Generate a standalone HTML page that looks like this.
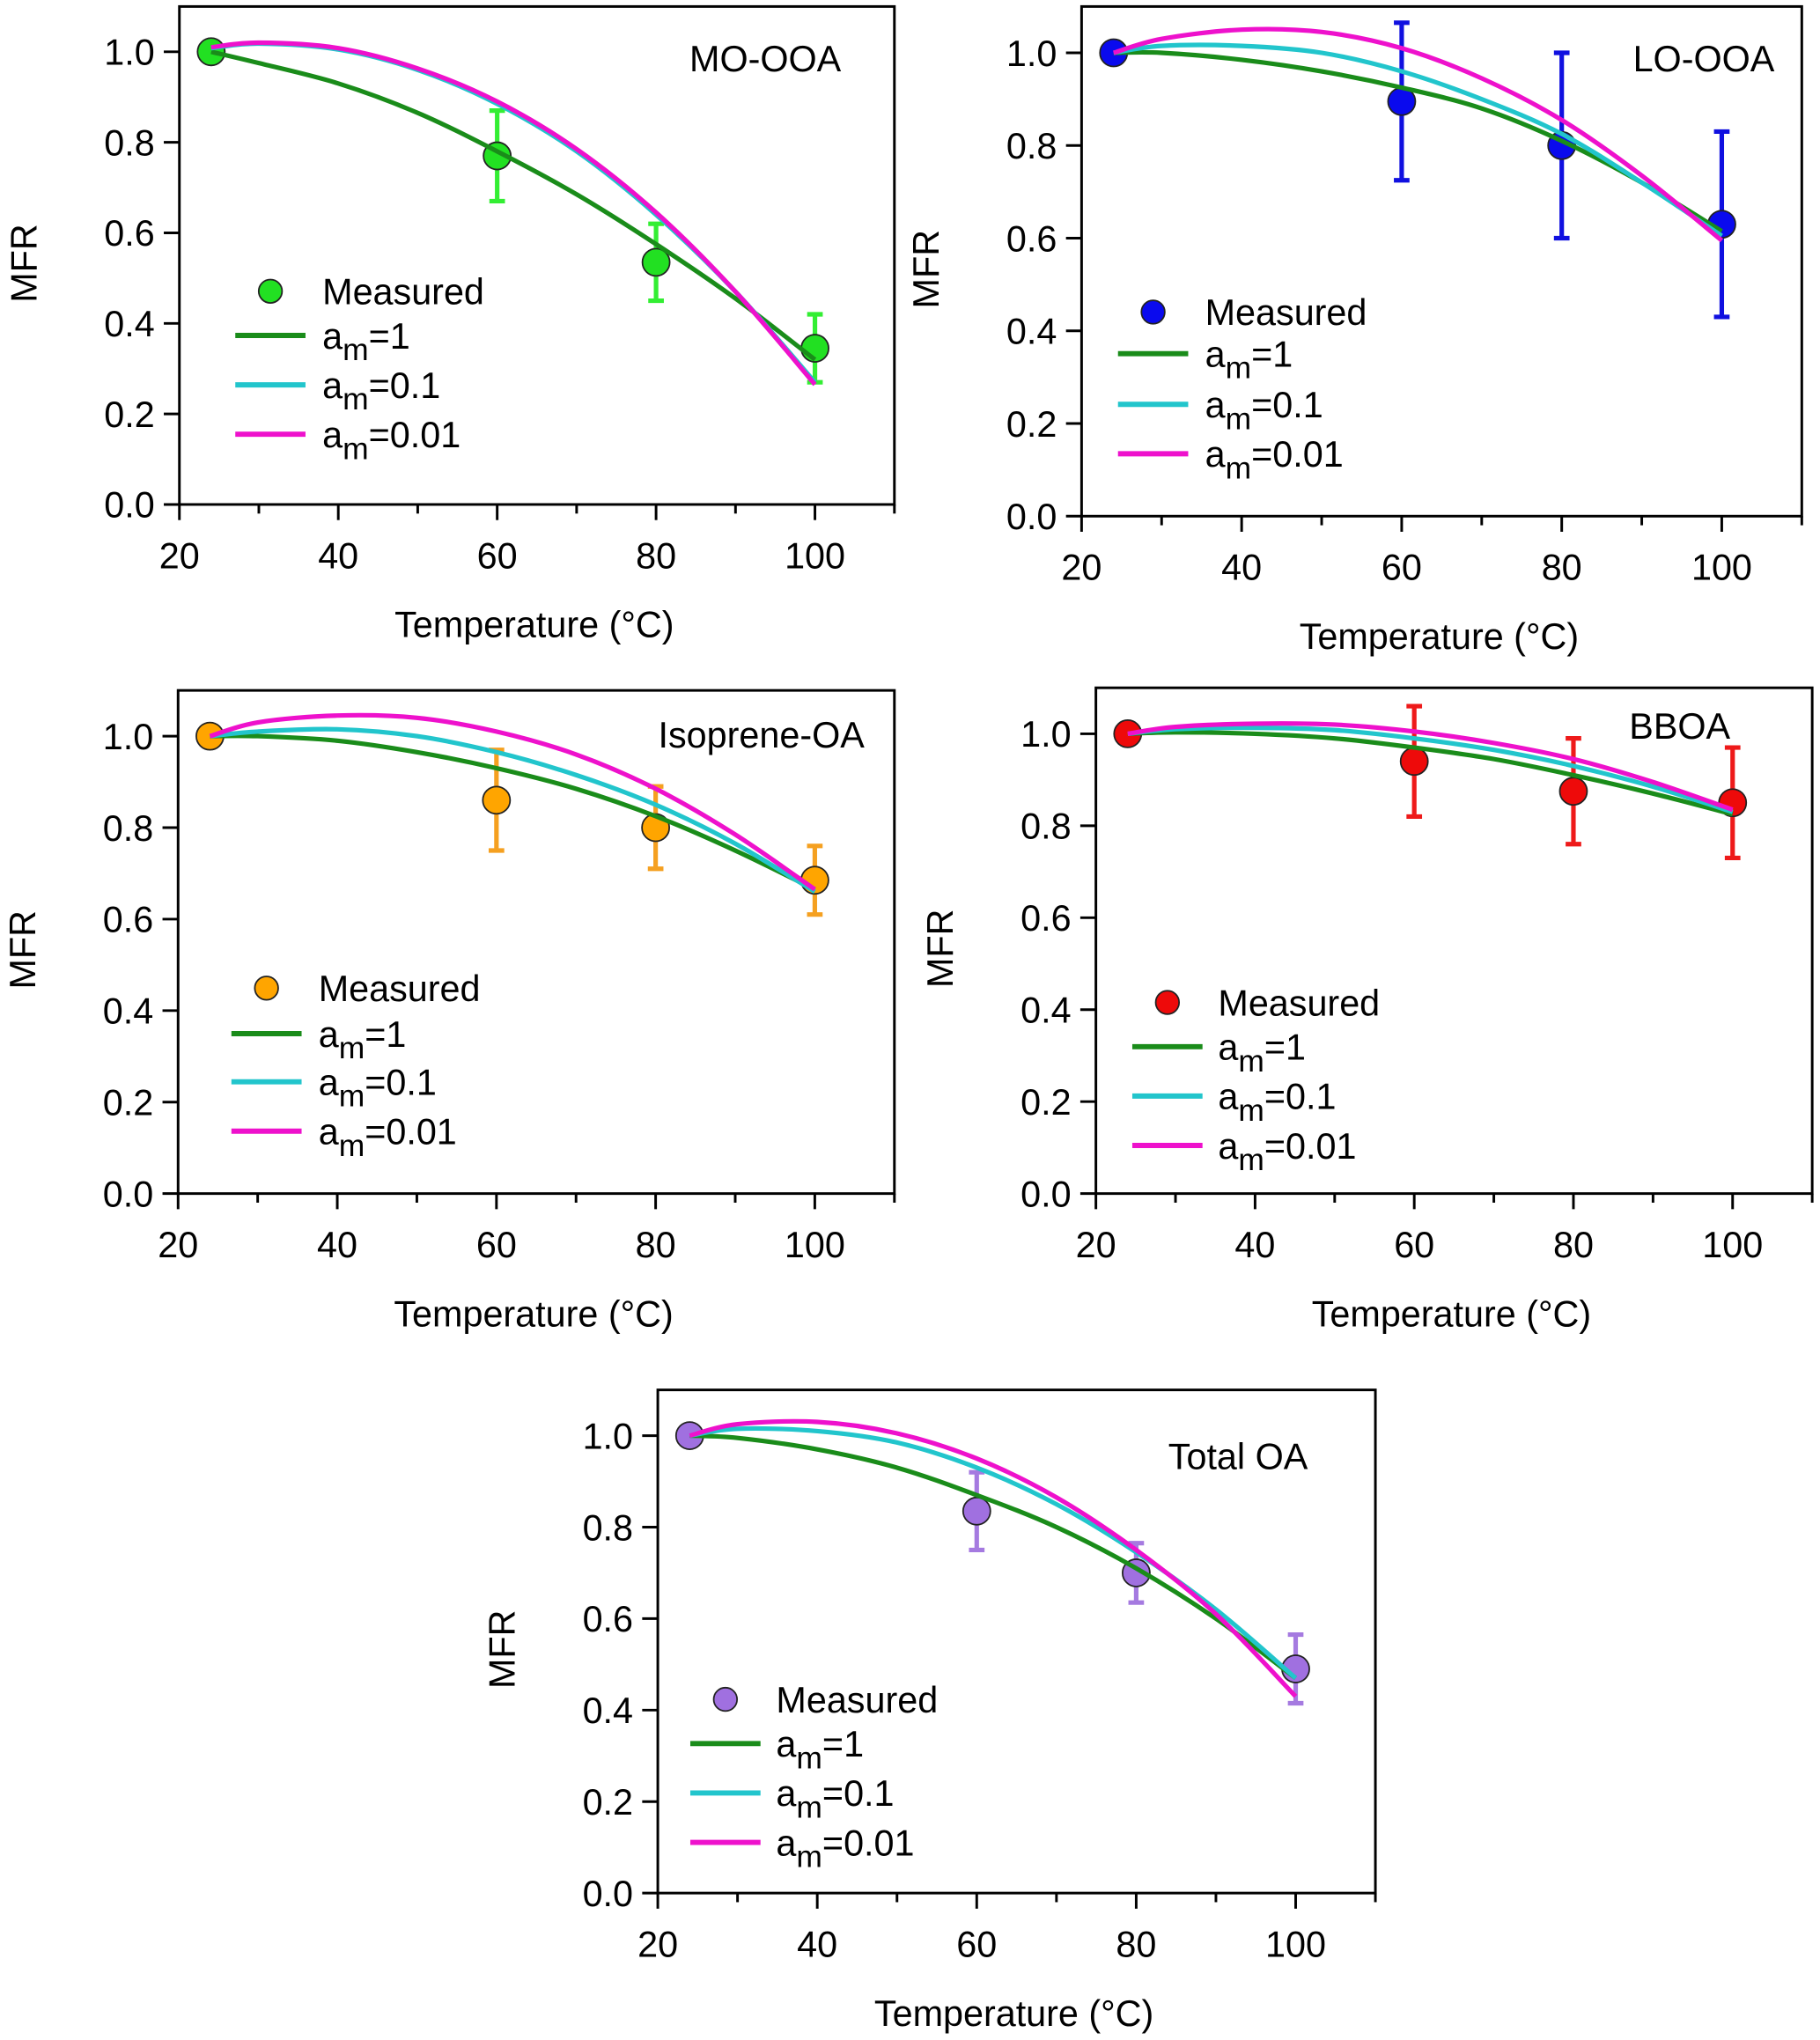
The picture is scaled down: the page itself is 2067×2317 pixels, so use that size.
<!DOCTYPE html>
<html><head><meta charset="utf-8"><style>
html,body{margin:0;padding:0;background:#fff;}
svg{display:block;}
text{font-family:"Liberation Sans",Arial,sans-serif;fill:#000;}
</style></head><body>
<svg id="fig" width="2067" height="2317" viewBox="0 0 1400 1569" preserveAspectRatio="none" xmlns="http://www.w3.org/2000/svg"></svg>
<script>
// ---- data ----
const xTicks = [20, 40, 60, 80, 100];
const xMinor = [30, 50, 70, 90, 110];
const yTicks = [0.0, 0.2, 0.4, 0.6, 0.8, 1.0];
const yTickLabels = ["0.0", "0.2", "0.4", "0.6", "0.8", "1.0"];
const curveT = [24, 30, 40, 50, 60, 70, 80, 90, 100];
const measT = [24, 60, 80, 100];
const legendLabels = ["1", "0.1", "0.01"];

const moMeas = [1.0, 0.77, 0.535, 0.345];
const moErr = [0, 0.1, 0.085, 0.075];
const moAm1 = [1.0, 0.975, 0.93, 0.865, 0.78, 0.685, 0.575, 0.455, 0.32];
const moAm01 = [1.008, 1.018, 1.005, 0.96, 0.885, 0.78, 0.64, 0.47, 0.27];
const moAm001 = [1.01, 1.02, 1.008, 0.963, 0.89, 0.785, 0.645, 0.47, 0.265];

const loMeas = [1.0, 0.895, 0.8, 0.63];
const loErr = [0, 0.17, 0.2, 0.2];
const loAm1 = [1.0, 1.0, 0.985, 0.96, 0.925, 0.88, 0.81, 0.72, 0.615];
const loAm01 = [1.0, 1.015, 1.015, 1.0, 0.96, 0.9, 0.825, 0.72, 0.605];
const loAm001 = [1.0, 1.03, 1.05, 1.045, 1.01, 0.945, 0.855, 0.735, 0.595];

const isoMeas = [1.0, 0.86, 0.8, 0.685];
const isoErr = [0, 0.11, 0.09, 0.075];
const isoAm1 = [1.0, 1.0, 0.99, 0.965, 0.93, 0.885, 0.825, 0.75, 0.665];
const isoAm01 = [1.0, 1.01, 1.015, 1.0, 0.965, 0.915, 0.85, 0.765, 0.66];
const isoAm001 = [1.0, 1.03, 1.045, 1.04, 1.01, 0.96, 0.885, 0.785, 0.665];

const bbMeas = [1.0, 0.94, 0.875, 0.85];
const bbErr = [0, 0.12, 0.115, 0.12];
const bbAm1 = [1.0, 1.003, 1.0, 0.99, 0.97, 0.945, 0.91, 0.87, 0.825];
const bbAm01 = [1.0, 1.01, 1.013, 1.008, 0.99, 0.965, 0.93, 0.885, 0.83];
const bbAm001 = [1.0, 1.015, 1.022, 1.02, 1.005, 0.98, 0.945, 0.895, 0.835];

const totMeas = [1.0, 0.835, 0.7, 0.49];
const totErr = [0, 0.085, 0.065, 0.075];
const totAm1 = [1.0, 0.995, 0.97, 0.93, 0.87, 0.8, 0.71, 0.6, 0.47];
const totAm01 = [1.0, 1.015, 1.01, 0.985, 0.93, 0.85, 0.745, 0.62, 0.47];
const totAm001 = [1.0, 1.025, 1.03, 1.005, 0.95, 0.865, 0.75, 0.61, 0.43];

// ---- layout (not data) ----
const panels = [
 {name:"mo-ooa", title:"MO-OOA", tx:647, ty:55, L:138, R:688, T:5, B:388, meas:moMeas, err:moErr, c:[moAm1,moAm01,moAm001], col:"#22e022", ecol:"#33ee33", leg:{mx:208,my:224,lx:181,tx:248,ly:[258,296,334]}},
 {name:"lo-ooa", title:"LO-OOA", tx:1365, ty:55, L:832, R:1386, T:5, B:397, meas:loMeas, err:loErr, c:[loAm1,loAm01,loAm001], col:"#0a0aee", ecol:"#1010e0", leg:{mx:887,my:240,lx:860,tx:927,ly:[272,311,349]}},
 {name:"isoprene-oa", title:"Isoprene-OA", tx:665, ty:575, L:137, R:688, T:531, B:918, meas:isoMeas, err:isoErr, c:[isoAm1,isoAm01,isoAm001], col:"#ffa500", ecol:"#f5a020", leg:{mx:205,my:760,lx:178,tx:245,ly:[795,832,870]}},
 {name:"bboa", title:"BBOA", tx:1331, ty:568, L:843, R:1394, T:529, B:918, meas:bbMeas, err:bbErr, c:[bbAm1,bbAm01,bbAm001], col:"#ee0a0a", ecol:"#ee1a1a", leg:{mx:898,my:771,lx:871,tx:937,ly:[805,843,881]}},
 {name:"total-oa", title:"Total OA", tx:1006, ty:1130, L:506, R:1058, T:1069, B:1456, meas:totMeas, err:totErr, c:[totAm1,totAm01,totAm001], col:"#a070e0", ecol:"#a57ae0", leg:{mx:558,my:1307,lx:531,tx:597,ly:[1341,1379,1417]}}
];
const curveCols = ["#1a8c1a", "#22c5cc", "#ee11cc"];
const NS = "http://www.w3.org/2000/svg";
const svg = document.getElementById("fig");
function mk(tag, attrs, parent){const e=document.createElementNS(NS,tag);for(const k in attrs)e.setAttribute(k,attrs[k]);(parent||svg).appendChild(e);return e;}
function smooth(pts){
  let d="M"+pts[0][0]+","+pts[0][1];
  for(let i=0;i<pts.length-1;i++){
    const p0=pts[Math.max(0,i-1)],p1=pts[i],p2=pts[i+1],p3=pts[Math.min(pts.length-1,i+2)];
    const c1=[p1[0]+(p2[0]-p0[0])/6,p1[1]+(p2[1]-p0[1])/6];
    const c2=[p2[0]-(p3[0]-p1[0])/6,p2[1]-(p3[1]-p1[1])/6];
    d+=" C"+c1[0]+","+c1[1]+" "+c2[0]+","+c2[1]+" "+p2[0]+","+p2[1];
  }
  return d;
}
panels.forEach(p=>{
  const g=mk("g",{});
  
  
  const xs=v=>p.L+(v-20)/90*(p.R-p.L);
  const ys=v=>p.B-v/1.1*(p.B-p.T);
  const frame=mk("rect",{x:p.L,y:p.T,width:p.R-p.L,height:p.B-p.T,fill:"none",stroke:"#000","stroke-width":2},g);
  
  
  xTicks.forEach(v=>{
    const t=mk("line",{x1:xs(v),x2:xs(v),y1:p.B,y2:p.B+12,stroke:"#000","stroke-width":2},g);
    
    
    const l=mk("text",{x:xs(v),y:p.B+49,"font-size":28,"text-anchor":"middle"},g);
    l.textContent=v;
    
    
  });
  xMinor.forEach(v=>{
    const t=mk("line",{x1:xs(v),x2:xs(v),y1:p.B,y2:p.B+7,stroke:"#000","stroke-width":2},g);
    
    
  });
  yTicks.forEach((v,i)=>{
    const t=mk("line",{x1:p.L-12,x2:p.L,y1:ys(v),y2:ys(v),stroke:"#000","stroke-width":2},g);
    
    
    const l=mk("text",{x:p.L-19,y:ys(v)+10,"font-size":28,"text-anchor":"end"},g);
    l.textContent=yTickLabels[i];
    
    
  });
  const xt=mk("text",{x:(p.L+p.R)/2-2,y:p.B+102,"font-size":28,"text-anchor":"middle"},g);
  xt.textContent="Temperature (°C)";
  
  
  const cy=(p.T+p.B)/2+6;
  const yt=mk("text",{x:0,y:0,"font-size":28,"text-anchor":"middle",transform:"translate("+(p.L-110)+","+cy+") rotate(-90)"},g);
  yt.textContent="MFR";
  
  
  const tt=mk("text",{x:p.tx,y:p.ty,"font-size":28,"text-anchor":"end"},g);
  tt.textContent=p.title;
  
  
  measT.forEach((t,i)=>{
    if(!p.err[i]) return;
    const x=xs(t),y1=ys(p.meas[i]-p.err[i]),y2=ys(p.meas[i]+p.err[i]);
    const e=mk("path",{d:"M"+x+","+y1+"V"+y2+"M"+(x-6)+","+y1+"H"+(x+6)+"M"+(x-6)+","+y2+"H"+(x+6),stroke:p.ecol,"stroke-width":3.5,fill:"none"},g);
    
    
  });
  measT.forEach((t,i)=>{
    const c=mk("circle",{cx:xs(t),cy:ys(p.meas[i]),r:10.5,fill:p.col,stroke:"#222","stroke-width":1.2},g);
    
    
  });
  p.c.forEach((arr,k)=>{
    const pts=curveT.map((t,i)=>[xs(t),ys(arr[i])]);
    const path=mk("path",{d:smooth(pts),stroke:curveCols[k],"stroke-width":3.5,fill:"none"},g);
    
    
  });
  const lg=p.leg;
  const lm=mk("circle",{cx:lg.mx,cy:lg.my,r:9,fill:p.col,stroke:"#222","stroke-width":1.2},g);
  
  
  const lmt=mk("text",{x:lg.tx,y:lg.my+10,"font-size":28},g);
  lmt.textContent="Measured";
  
  
  legendLabels.forEach((lab,k)=>{
    const y=lg.ly[k];
    const ln=mk("line",{x1:lg.lx,x2:lg.lx+54,y1:y,y2:y,stroke:curveCols[k],"stroke-width":4},g);
    
    
    const tx=mk("text",{x:lg.tx,y:y+10,"font-size":28},g);
    
    
    const a=mk("tspan",{},tx);a.textContent="a";
    const s=mk("tspan",{dy:9,"font-size":24},tx);s.textContent="m";
    const r=mk("tspan",{dy:-9},tx);r.textContent="="+lab;
  });
});
</script>
</body></html>
